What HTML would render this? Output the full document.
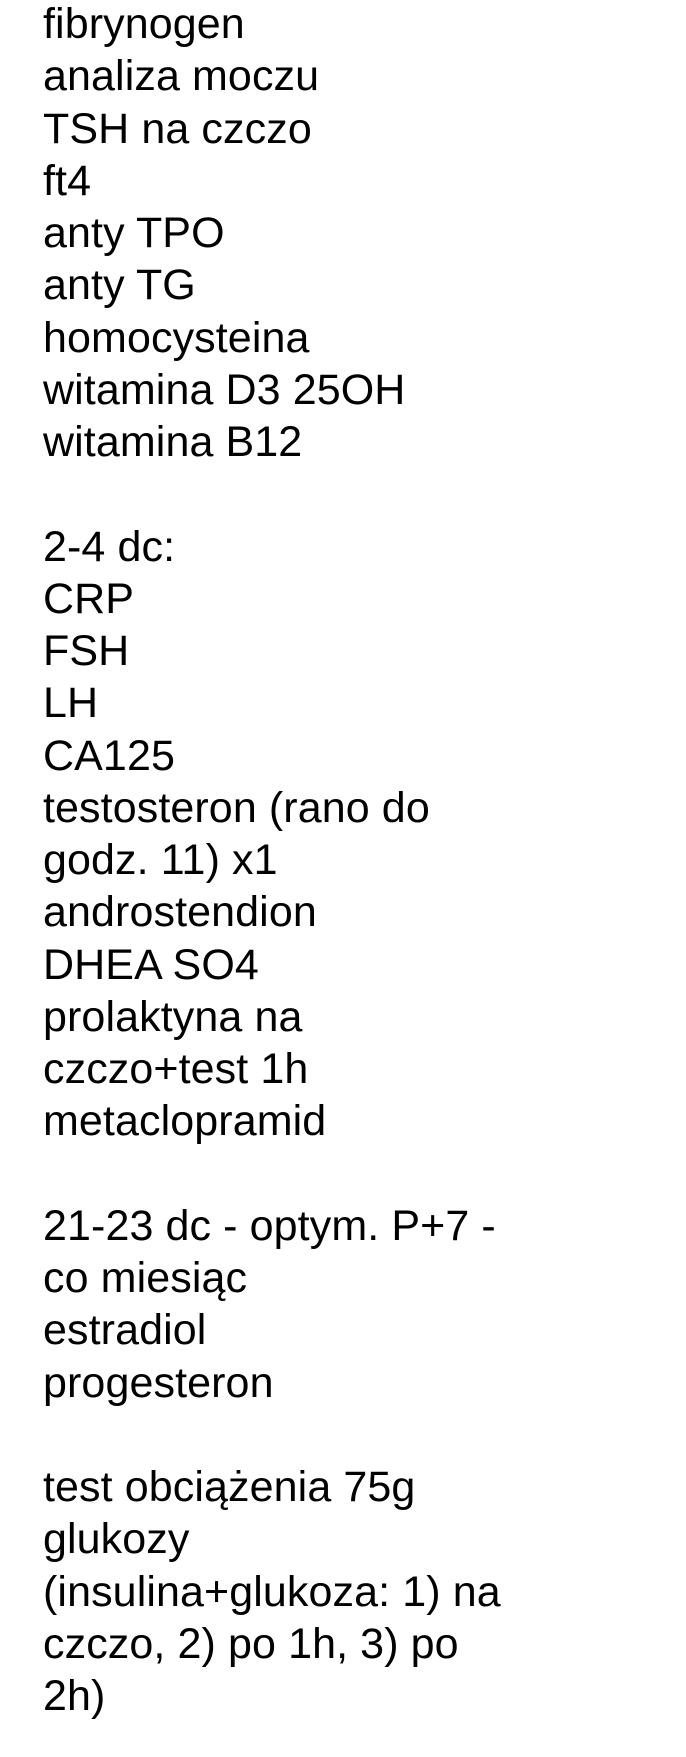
<!DOCTYPE html>
<html><head><meta charset="utf-8"><style>
html,body{margin:0;padding:0;background:#fff;}
body{width:686px;height:1757px;overflow:hidden;position:relative;}
.t{position:absolute;left:43px;top:-2px;font-family:"Liberation Sans",sans-serif;font-size:43px;line-height:52.25px;color:#000;white-space:pre;letter-spacing:0.1px;}
</style></head><body><div class="t">fibrynogen
analiza moczu
TSH na czczo
ft4
anty TPO
anty TG
homocysteina
witamina D3 25OH
witamina B12

2-4 dc:
CRP
FSH
LH
CA125
testosteron (rano do
godz. 11) x1
androstendion
DHEA SO4
prolaktyna na
czczo+test 1h
metaclopramid

21-23 dc - optym. P+7 -
co miesiąc
estradiol
progesteron

test obciążenia 75g
glukozy
(insulina+glukoza: 1) na
czczo, 2) po 1h, 3) po
2h)</div></body></html>
